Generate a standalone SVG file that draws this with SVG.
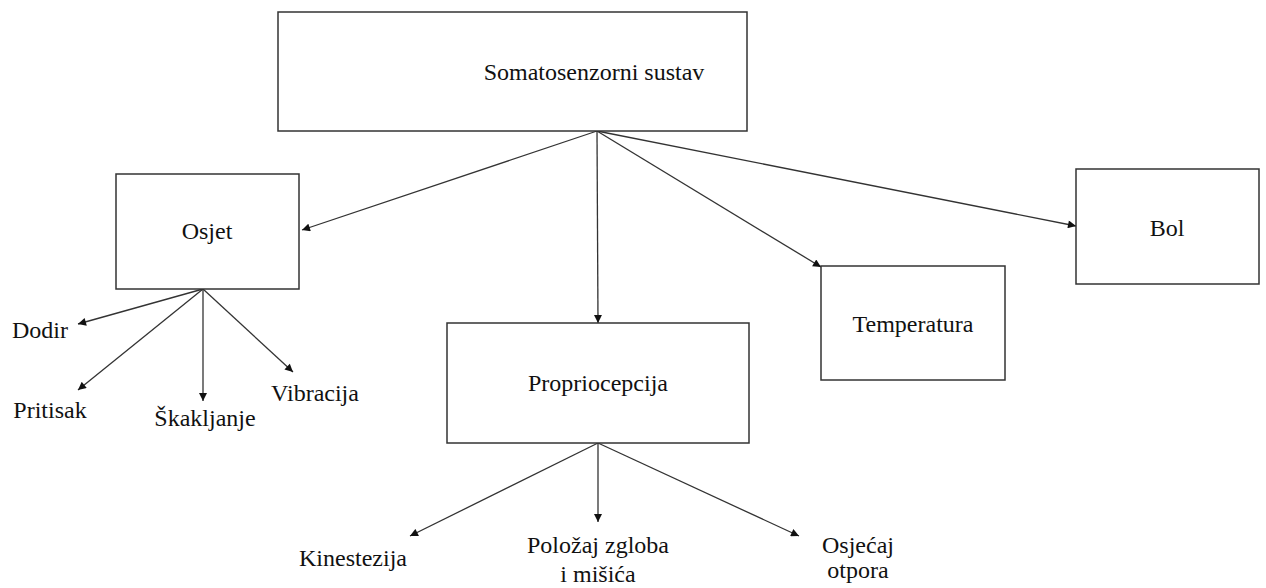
<svg xmlns="http://www.w3.org/2000/svg" width="1266" height="588" viewBox="0 0 1266 588">
<style>
.box{fill:#fff;stroke:#333;stroke-width:1.5}
.t{font-family:"Liberation Serif","Times New Roman",serif;font-size:24px;fill:#111;text-anchor:middle}
.c{stroke:#333;stroke-width:1.3;fill:none;marker-end:url(#ah)}
</style>
<defs>
<marker id="ah" viewBox="0 0 10 10" refX="10" refY="5" markerUnits="userSpaceOnUse" markerWidth="10" markerHeight="8" orient="auto">
<path d="M0,0 L10,5 L0,10 z" fill="#111"/>
</marker>
</defs>
<rect width="1266" height="588" fill="#fff"/>
<g id="connectors">
<line class="c" x1="597" y1="131" x2="302" y2="230"/>
<line class="c" x1="597" y1="131" x2="598" y2="323"/>
<line class="c" x1="597" y1="131" x2="821" y2="267"/>
<line class="c" x1="597" y1="131" x2="1076" y2="226"/>
<line class="c" x1="203" y1="289" x2="78" y2="324"/>
<line class="c" x1="203" y1="289" x2="78" y2="390"/>
<line class="c" x1="203" y1="289" x2="203" y2="401"/>
<line class="c" x1="203" y1="289" x2="293" y2="372"/>
<line class="c" x1="598" y1="443" x2="410" y2="536"/>
<line class="c" x1="598" y1="443" x2="598" y2="522"/>
<line class="c" x1="598" y1="443" x2="799" y2="536"/>
</g>
<g id="somatosenzorni">
<rect class="box" x="278" y="12" width="469" height="119"/>
<text class="t" x="594" y="80">Somatosenzorni sustav</text>
</g>
<g id="osjet">
<rect class="box" x="116" y="174" width="183" height="115"/>
<text class="t" x="207" y="239">Osjet</text>
</g>
<g id="propriocepcija">
<rect class="box" x="447" y="323" width="302" height="120"/>
<text class="t" x="598" y="391">Propriocepcija</text>
</g>
<g id="temperatura">
<rect class="box" x="821" y="266" width="184" height="114"/>
<text class="t" x="913" y="332">Temperatura</text>
</g>
<g id="bol">
<rect class="box" x="1076" y="169" width="183" height="115"/>
<text class="t" x="1167" y="236">Bol</text>
</g>
<g id="dodir"><text class="t" x="40" y="338">Dodir</text></g>
<g id="pritisak"><text class="t" x="50" y="418">Pritisak</text></g>
<g id="skakljanje"><text class="t" x="205" y="426">Škakljanje</text></g>
<g id="vibracija"><text class="t" x="315" y="401">Vibracija</text></g>
<g id="kinestezija"><text class="t" x="353" y="566">Kinestezija</text></g>
<g id="polozaj"><text class="t" x="598" y="553">Položaj zgloba</text><text class="t" x="598" y="582">i mišića</text></g>
<g id="osjecaj"><text class="t" x="858" y="553">Osjećaj</text><text class="t" x="858" y="578">otpora</text></g>
</svg>
